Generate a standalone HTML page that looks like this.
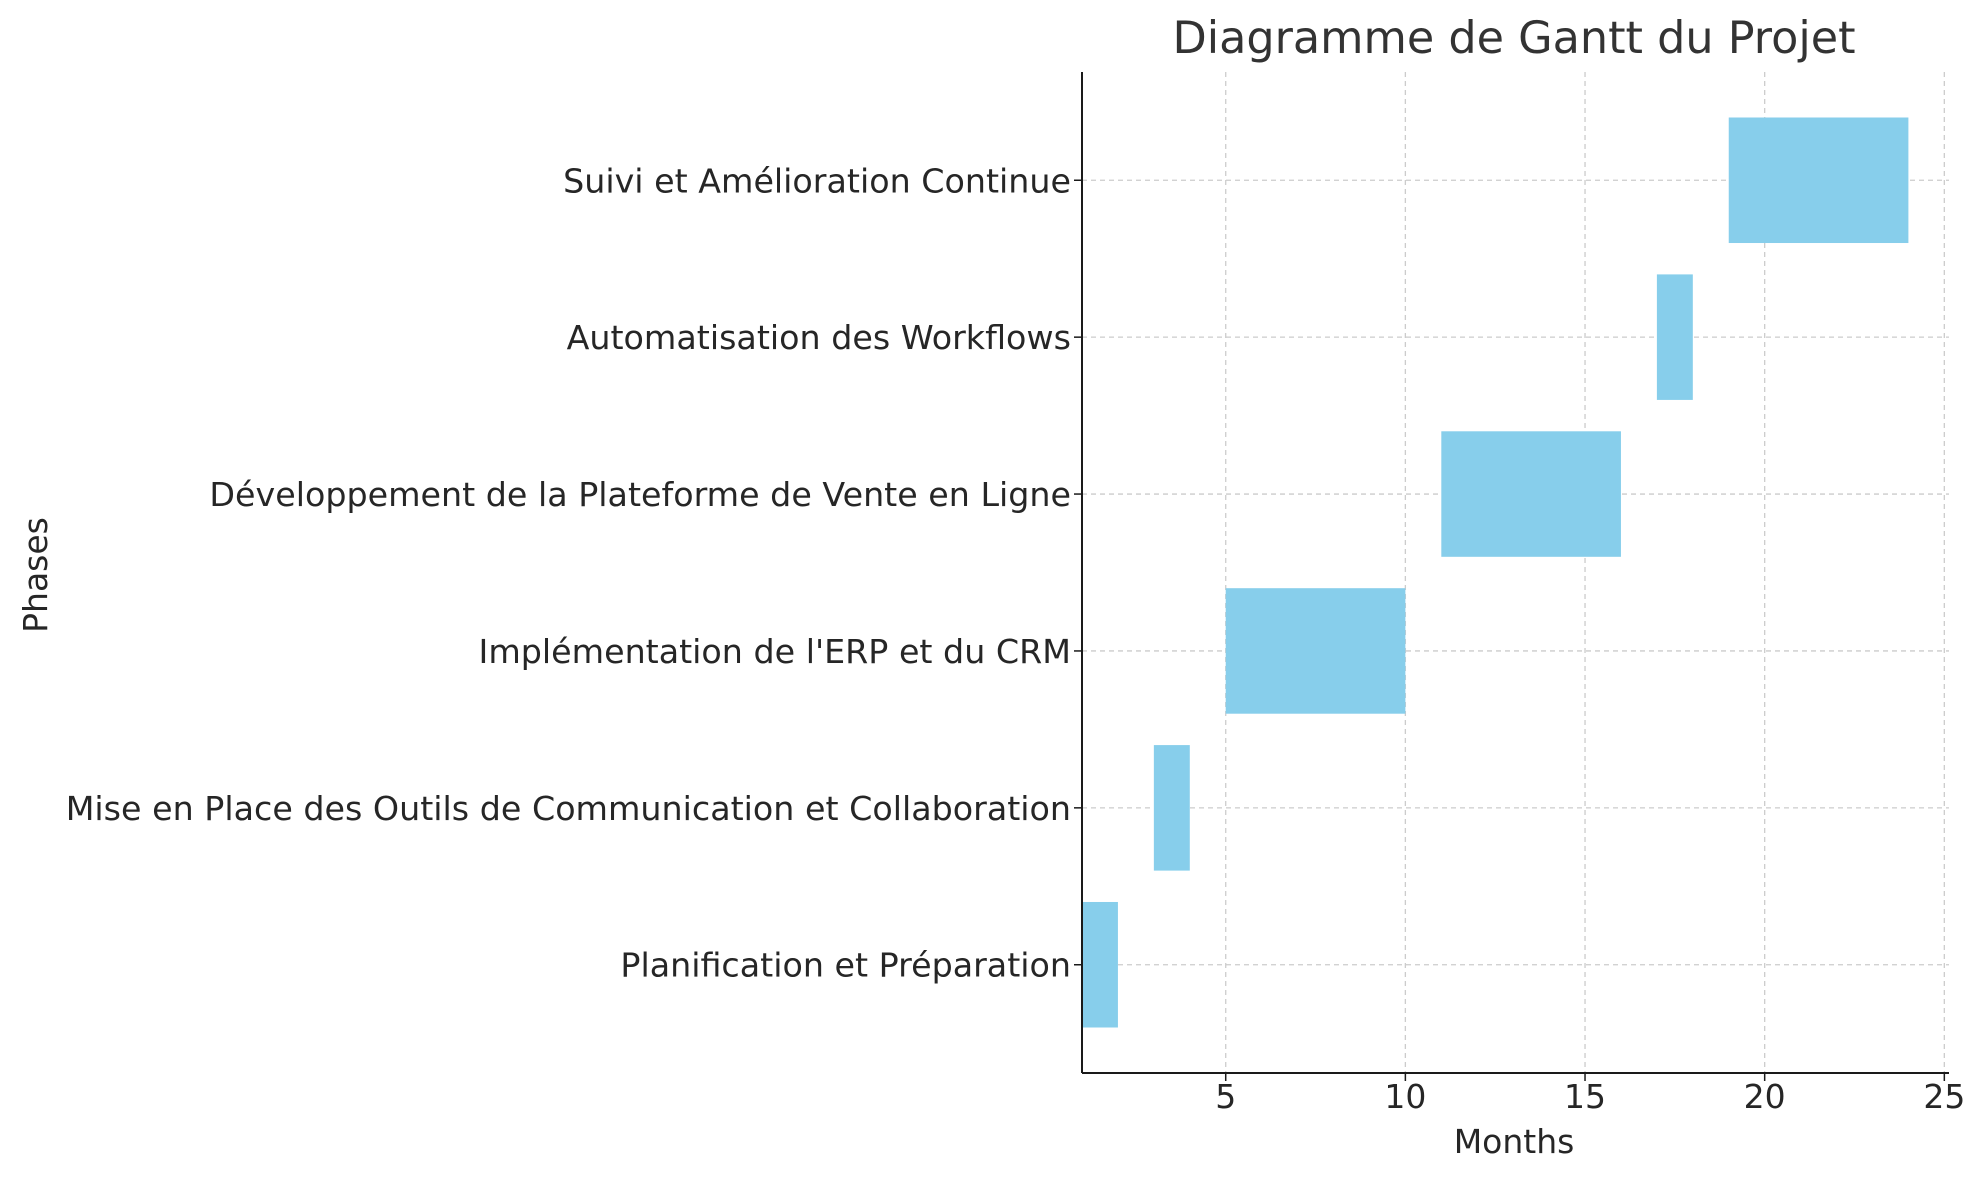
<!DOCTYPE html>
<html><head><meta charset="utf-8"><style>
html,body{margin:0;padding:0;background:#fff;}
svg{display:block;font-family:"DejaVu Sans","Liberation Sans",sans-serif;}
</style></head><body>
<svg id="chart" width="1984" height="1180" viewBox="0 0 1984 1180" xmlns="http://www.w3.org/2000/svg"></svg>
<script>
const phases = ["Planification et Préparation","Mise en Place des Outils de Communication et Collaboration","Implémentation de l'ERP et du CRM","Développement de la Plateforme de Vente en Ligne","Automatisation des Workflows","Suivi et Amélioration Continue"];
const starts = [1,3,5,11,17,19];
const durations = [1,1,5,5,1,5];
const xTicks = [5,10,15,20,25];

const L=1082,R=1949,T=72,B=1073;
const xMin=1,xMax=25.13,yMin=-0.69,yMax=5.69;
const sx=v=>L+(v-xMin)/(xMax-xMin)*(R-L);
const sy=v=>B-(v-yMin)/(yMax-yMin)*(B-T);
const svg=document.getElementById('chart');
const NS="http://www.w3.org/2000/svg";
function mk(tag,attrs,text){const e=document.createElementNS(NS,tag);for(const k in attrs)e.setAttribute(k,attrs[k]);if(text!==undefined)e.textContent=text;svg.appendChild(e);return e;}

xTicks.forEach(t=>{const g=mk('line',{x1:sx(t),x2:sx(t),y1:T,y2:B,stroke:'#cccccc','stroke-width':1.3,'stroke-dasharray':'5,4'});

});
phases.forEach((p,i)=>{const g=mk('line',{x1:L,x2:R,y1:sy(i),y2:sy(i),stroke:'#cccccc','stroke-width':1.3,'stroke-dasharray':'5,4'});

});

const bh=(sy(0)-sy(0.8));
phases.forEach((p,i)=>{const r=mk('rect',{x:sx(starts[i]),y:sy(i)-bh/2,width:sx(starts[i]+durations[i])-sx(starts[i]),height:bh,fill:'#87ceeb'});

});

let s=mk('line',{x1:L,x2:L,y1:T,y2:B,stroke:'#1a1a1a','stroke-width':2});


s=mk('line',{x1:L,x2:R,y1:B,y2:B,stroke:'#1a1a1a','stroke-width':2});



xTicks.forEach(t=>{const tk=mk('line',{x1:sx(t),x2:sx(t),y1:B,y2:B+8,stroke:'#1a1a1a','stroke-width':1.5});


const lb=mk('text',{x:sx(t),y:1108,'text-anchor':'middle','font-size':33,fill:'#262626'},String(t));

});

phases.forEach((p,i)=>{const tk=mk('line',{x1:L-8,x2:L,y1:sy(i),y2:sy(i),stroke:'#1a1a1a','stroke-width':1.5});


const lb=mk('text',{x:1071,y:sy(i)+12,'text-anchor':'end','font-size':33.3,fill:'#262626'},p);

});

let t=mk('text',{x:1514,y:53,'text-anchor':'middle','font-size':44.5,fill:'#333333'},'Diagramme de Gantt du Projet');


t=mk('text',{x:1514,y:1153,'text-anchor':'middle','font-size':33,fill:'#262626'},'Months');


t=mk('text',{x:0,y:0,'text-anchor':'middle','font-size':33,fill:'#262626',transform:'translate(47,575) rotate(-90)'},'Phases');


</script>
</body></html>
